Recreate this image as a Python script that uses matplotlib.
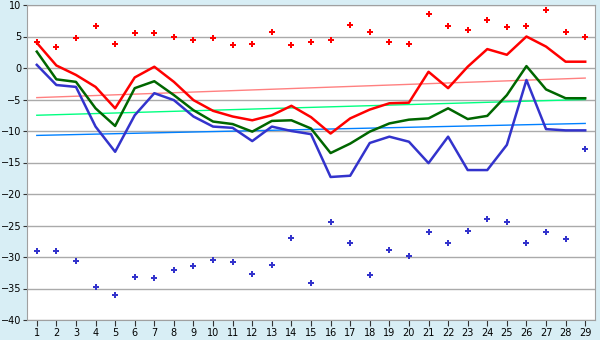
import matplotlib
matplotlib.use("Agg")
import matplotlib.pyplot as plt

days = list(range(1, 30))

red_line = [4.0, 0.4, -1.1, -3.0, -6.4, -1.5, 0.2, -2.2, -5.1, -6.8,
            -7.7, -8.3, -7.5, -6.0, -7.8, -10.4, -8.0, -6.6, -5.6, -5.5,
            -0.6, -3.2, 0.2, 3.0, 2.1, 5.0, 3.4, 1.0, 1.0]
green_line = [2.6, -1.8, -2.2, -6.4, -9.2, -3.2, -2.1, -4.3, -6.7, -8.5,
              -8.9, -10.1, -8.4, -8.3, -9.6, -13.5, -12.0, -10.1, -8.8, -8.2,
              -8.0, -6.4, -8.1, -7.6, -4.3, 0.3, -3.4, -4.8, -4.8]
blue_line = [0.5, -2.7, -3.0, -9.3, -13.3, -7.5, -4.0, -5.1, -7.7, -9.3,
             -9.5, -11.6, -9.3, -10.0, -10.5, -17.3, -17.1, -11.9, -10.9, -11.7,
             -15.1, -10.9, -16.2, -16.2, -12.2, -1.9, -9.7, -9.9, -9.9]

red_points = [4.1, 3.3, 4.7, 6.7, 3.8, 5.5, 5.5, 4.9, 4.4, 4.7,
              3.6, 3.8, 5.7, 3.6, 4.1, 4.4, 6.8, 5.7, 4.2, 3.8,
              8.5, 6.7, 6.0, 7.6, 6.5, 6.7, 9.2, 5.7, 4.9]
blue_points = [-29.0, -29.0, -30.7, -34.8, -36.1, -33.2, -33.4, -32.1, -31.5, -30.5,
               -30.8, -32.7, -31.3, -27.0, -34.2, -24.5, -27.8, -32.9, -28.9, -29.9,
               -26.1, -27.8, -25.9, -24.0, -24.5, -27.8, -26.1, -27.2, -12.8]

trend_x = [1, 29]
red_trend = [-4.7, -1.6]
green_trend = [-7.5, -5.0]
blue_trend = [-10.7, -8.8]

bg = '#d8eef5'
fig = plt.figure(figsize=(6, 3.4), dpi=100, facecolor=bg)
ax = fig.add_axes([27/600, 20/340, 568/600, 315/340])
ax.set_facecolor('white')

ax.plot(trend_x, red_trend, color='#ff8080', lw=1)
ax.plot(trend_x, green_trend, color='#00ff80', lw=1)
ax.plot(trend_x, blue_trend, color='#0080ff', lw=1)

ax.plot(days, red_line, color='#ff0000', lw=1.8)
ax.plot(days, green_line, color='#006600', lw=1.8)
ax.plot(days, blue_line, color='#3333cc', lw=1.8)

ax.plot(days, red_points, ls='none', marker='P', ms=4.5, color='#ff0000', mew=0)
ax.plot(days, blue_points, ls='none', marker='P', ms=4.5, color='#3333cc', mew=0)

ax.set_xlim(0.5, 29.5)
ax.set_ylim(-40, 10)
ax.set_xticks(days)
ax.set_yticks(range(-40, 11, 5))
ax.yaxis.grid(True, color='#aaaaaa', lw=1)
ax.set_axisbelow(True)
for s in ax.spines.values():
    s.set_color('#a0a0a0')
ax.tick_params(axis='both', labelsize=7, color='#333333')
ax.tick_params(axis='y', length=3, pad=1)
ax.tick_params(axis='x', length=4, pad=1.5)

fig.savefig('out.png', dpi=100, facecolor=bg)
